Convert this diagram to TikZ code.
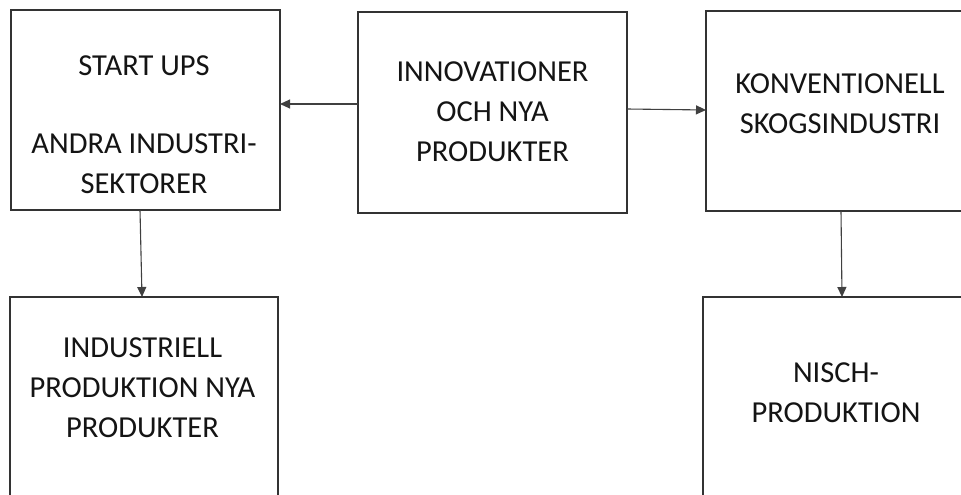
\documentclass[tikz,border=0pt]{standalone}
\usepackage{fontspec}
\setmainfont{Carlito}
\usetikzlibrary{arrows.meta}
\definecolor{boxline}{HTML}{333333}
\definecolor{arrline}{HTML}{404040}
\tikzset{
  box/.style={draw=boxline, line width=1.4pt, inner sep=0pt, outer sep=0pt, fill=none},
  lbl/.style={align=center, inner sep=0pt, text=black!92, font=\fontsize{30.5}{40}\selectfont},
  arr/.style={draw=arrline, line width=1.1pt, -{Triangle[length=10pt,width=9pt]}}
}
\begin{document}
\begin{tikzpicture}[x=1pt,y=1pt]
\useasboundingbox[fill=white] (0,0) rectangle (961,-495);
\node[box, minimum width=269pt, minimum height=200pt] (a) at (145.5,-110) {};
\node[box, minimum width=269pt, minimum height=201pt] (b) at (492.5,-112.5) {};
\node[box, minimum width=268pt, minimum height=200pt] (c) at (840,-111) {};
\node[box, minimum width=268pt, minimum height=210pt] (d) at (144,-402) {};
\node[box, minimum width=267pt, minimum height=210pt] (e) at (836.5,-402) {};
\node[lbl] (ta) at (144,-124.5) {START UPS\\[38pt]ANDRA INDUSTRI-\\SEKTORER};
\node[lbl] (tb) at (492.5,-112) {INNOVATIONER\\OCH NYA\\PRODUKTER};
\node[lbl] (tc) at (840,-103.5) {KONVENTIONELL\\SKOGSINDUSTRI};
\node[lbl] (td) at (142.5,-388) {INDUSTRIELL\\PRODUKTION NYA\\PRODUKTER};
\node[lbl] (te) at (836,-392.5) {NISCH-\\PRODUKTION};
\draw[arr] ([yshift=8.5pt]b.west) -- ([yshift=8.5pt]b.west -| a.east);
\draw[arr] ([yshift=3.5pt]b.east) -- ([yshift=1pt]c.west);
\draw[arr] ([xshift=-5.5pt]a.south) -- ([xshift=-2pt]d.north);
\draw[arr] ([xshift=1pt]c.south) -- ([xshift=5.5pt]e.north);
\end{tikzpicture}
\end{document}
